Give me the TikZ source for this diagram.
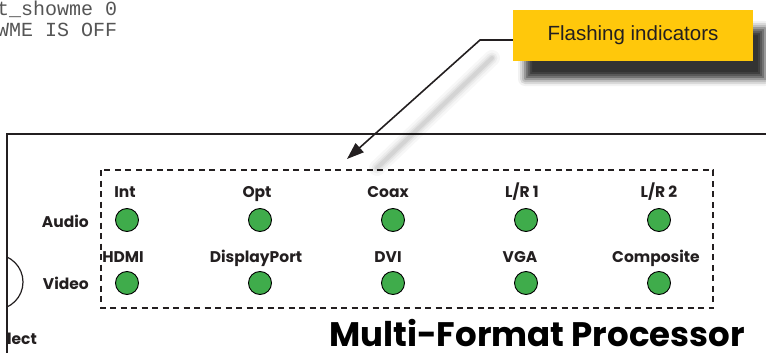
\documentclass[tikz,border=0pt]{standalone}
\usepackage{fontspec}
\setmainfont{Liberation Sans}
\newfontfamily\geofont{Poppins}
\newfontfamily\konsfont{Liberation Mono}
\usetikzlibrary{arrows.meta,shadows.blur}
\definecolor{gelb}{HTML}{FFC80B}
\definecolor{ledgruen}{HTML}{3FAC4B}
\definecolor{dunkel}{HTML}{231F20}
\definecolor{konsole}{HTML}{555555}
\tikzset{
  led/.style={circle,draw=black,line width=0.9pt,fill=ledgruen,minimum size=23pt,inner sep=0pt},
  beschr/.style={font=\geofont\bfseries\fontsize{15.5}{16}\selectfont,text=dunkel,inner sep=0pt,anchor=base},
  zeile/.style={beschr,anchor=base east},
  rahmen/.style={dash pattern=on 6pt off 4.5pt,line width=1.6pt,dunkel},
  geraet/.style={line width=1.2pt,dunkel},
  hinweis/.style={fill=gelb,minimum width=240pt,minimum height=51pt,inner sep=0pt,
    font=\fontsize{20.5}{22}\selectfont,text=dunkel,
    blur shadow={shadow xshift=12pt,shadow yshift=-18pt,shadow blur radius=7pt,shadow opacity=80}},
  zeiger/.style={-{Triangle[length=17pt,width=12pt]},line width=1.6pt,dunkel},
  konsole/.style={font=\konsfont\fontsize{20}{20}\selectfont,text=konsole,anchor=base west,inner sep=0pt},
}
\begin{document}
\begin{tikzpicture}[x=1pt,y=-1pt]
  \useasboundingbox (0,0) rectangle (766,353);
  \clip (0,0) rectangle (766,353);
  % Konsolenausgabe im Hintergrund
  \node[konsole] (kons1) at (-3,16) {t\_showme 0};
  \node[konsole] (kons2) at (-3,37) {WME IS OFF};
  % Geraetefront
  \draw[geraet] (7,360) -- (7,134) -- (770,134);
  \begin{scope}
    \clip (7,134) rectangle (770,360);
    \draw[geraet] (-4.5,282) circle (27.5);
    \node[zeile] (wahl) at (37,344) {Select};
  \end{scope}
  \draw[rahmen] (101,170) rectangle (713,308);
  \node[zeile] (audio) at (89,227) {Audio};
  \node[zeile] (video) at (89,289) {Video};
  % Audio-Zeile
  \node[beschr] (t1) at (125,197) {Int};
  \node[beschr] (t2) at (257,197) {Opt};
  \node[beschr] (t3) at (388,197) {Coax};
  \node[beschr] (t4) at (522,197) {L/R 1};
  \node[beschr] (t5) at (659,197) {L/R 2};
  \node[led] (a1) at (127,220) {};
  \node[led] (a2) at (260,220) {};
  \node[led] (a3) at (393,220) {};
  \node[led] (a4) at (526,220) {};
  \node[led] (a5) at (659,220) {};
  % Video-Zeile
  \node[beschr] (u1) at (123,262) {HDMI};
  \node[beschr] (u2) at (256,262) {DisplayPort};
  \node[beschr] (u3) at (388,262) {DVI};
  \node[beschr] (u4) at (520,262) {VGA};
  \node[beschr] (u5) at (656,262) {Composite};
  \node[led] (v1) at (127,283) {};
  \node[led] (v2) at (260,283) {};
  \node[led] (v3) at (393,283) {};
  \node[led] (v4) at (526,283) {};
  \node[led] (v5) at (659,283) {};
  \node[font=\geofont\bfseries\fontsize{34}{36}\selectfont,text=black,inner sep=0pt,anchor=base east] (titel) at (745,346) {Multi-Format Processor};
  % Hinweis mit Zeiger
  \foreach \w/\o in {16/0.03,11/0.04,7/0.05,4/0.06}
    \draw[line width=\w pt,black,opacity=\o,line cap=round] (492,58) -- (377,168);
  \node[hinweis] (hinweis) at (633,35.5) {Flashing indicators};
  \coordinate (knick) at (480,40);
  \coordinate (spitze) at (347,159);
  \draw[zeiger] (knick -| hinweis.west) -- (knick) -- (spitze);
\end{tikzpicture}
\end{document}
